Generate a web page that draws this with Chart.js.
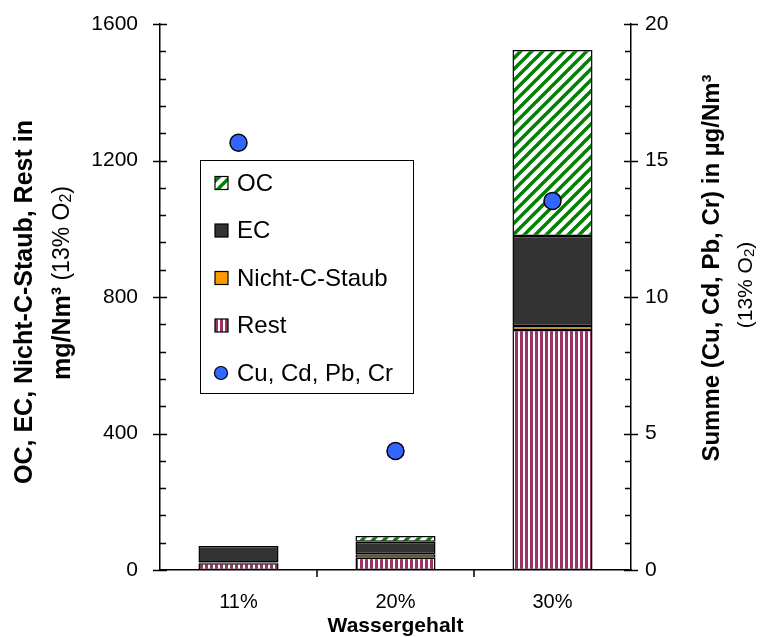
<!DOCTYPE html>
<html>
<head>
<meta charset="utf-8">
<script src="https://cdn.jsdelivr.net/npm/chart.js@4.4.0/dist/chart.umd.min.js"></script>
<style>
  html, body { margin: 0; padding: 0; background: #fff; }
</style>
</head>
<body>
<canvas id="chart" width="764" height="637"></canvas>
<script>
const categories = ["11%", "20%", "30%"];
const rest = [20, 36, 703];
const nichtC = [2, 10, 12];
const ec = [48, 37, 264];
const oc = [0, 17, 545];
const metals = [15.65, 4.36, 13.52];

const FONT = "'Liberation Sans', Arial, sans-serif";
const canvas = document.getElementById("chart");
const ctx = canvas.getContext("2d");

// fill patterns for the hatched segments
function makePattern(w, h, draw) {
  const c = document.createElement("canvas");
  c.width = w;
  c.height = h;
  const g = c.getContext("2d");
  g.fillStyle = "#fff";
  g.fillRect(0, 0, w, h);
  draw(g);
  return ctx.createPattern(c, "repeat");
}

const ocFill = makePattern(11, 11, (g) => {
  g.strokeStyle = "#008000";
  g.lineWidth = 3.4;
  [[-5.5, 5.5, 5.5, -5.5], [0, 11, 11, 0], [5.5, 16.5, 16.5, 5.5]].forEach(([a, b, c, d]) => {
    g.beginPath();
    g.moveTo(a, b);
    g.lineTo(c, d);
    g.stroke();
  });
});

const restFill = makePattern(5, 4, (g) => {
  g.fillStyle = "#993366";
  g.fillRect(0, 0, 3, 4);
});

function barSet(label, data, fill) {
  return {
    label: label,
    data: data,
    backgroundColor: fill,
    borderColor: "#000",
    borderWidth: 1.5,
    borderSkipped: false,
    barPercentage: 0.51,
    categoryPercentage: 1.0,
    yAxisID: "y",
    order: 1,
  };
}

const datasets = [
  barSet("Rest", rest, restFill),
  barSet("Nicht-C-Staub", nichtC, "#ff9900"),
  barSet("EC", ec, "#333333"),
  barSet("OC", oc, ocFill),
  {
    type: "line",
    label: "Cu, Cd, Pb, Cr",
    data: metals,
    showLine: false,
    yAxisID: "y2",
    pointRadius: 8.5,
    pointBackgroundColor: "#3366ff",
    pointBorderColor: "#000",
    pointBorderWidth: 1.5,
    order: 0,
  },
];

function rotatedText(x, y, parts, angle) {
  ctx.save();
  ctx.translate(x, y);
  ctx.rotate(angle === undefined ? -Math.PI / 2 : angle);
  ctx.textBaseline = "middle";
  ctx.textAlign = "left";
  ctx.fillStyle = "#000";
  let total = 0;
  parts.forEach((p) => {
    ctx.font = p.font;
    total += ctx.measureText(p.text).width;
  });
  let cx = -total / 2;
  parts.forEach((p) => {
    ctx.font = p.font;
    ctx.fillText(p.text, cx, p.dy || 0);
    cx += ctx.measureText(p.text).width;
  });
  ctx.restore();
}

const decorations = {
  id: "decorations",
  afterDraw(chart) {
    const c = chart.ctx;
    const area = chart.chartArea;
    const y = chart.scales.y;
    const y2 = chart.scales.y2;
    const x = chart.scales.x;

    // tick marks
    c.save();
    c.strokeStyle = "#000";
    c.lineWidth = 1.5;
    c.beginPath();
    for (let v = 0; v <= 1600; v += 80) {
      const py = Math.round(y.getPixelForValue(v)) + 0.5;
      if (v % 400 === 0) {
        c.moveTo(area.left - 7, py);
        c.lineTo(area.left + 7, py);
      } else {
        c.moveTo(area.left, py);
        c.lineTo(area.left + 6, py);
      }
    }
    for (let v = 0; v <= 20; v += 1) {
      const py = Math.round(y2.getPixelForValue(v)) + 0.5;
      if (v % 5 === 0) {
        c.moveTo(area.right - 7, py);
        c.lineTo(area.right + 7, py);
      } else {
        c.moveTo(area.right - 6, py);
        c.lineTo(area.right, py);
      }
    }
    for (let i = 0; i < categories.length - 1; i++) {
      const px = (x.getPixelForValue(i) + x.getPixelForValue(i + 1)) / 2;
      c.moveTo(px, area.bottom);
      c.lineTo(px, area.bottom + 7);
    }
    c.stroke();
    c.restore();

    // axis titles
    rotatedText(25, 302, [
      { text: "OC, EC, Nicht-C-Staub, Rest in", font: "bold 25px " + FONT },
    ]);
    rotatedText(63, 283, [
      { text: "mg/Nm³", font: "bold 25px " + FONT },
      { text: " (13% O", font: "23px " + FONT },
      { text: "2", font: "16px " + FONT, dy: 4 },
      { text: ")", font: "23px " + FONT },
    ]);
    rotatedText(712, 268, [
      { text: "Summe (Cu, Cd, Pb, Cr) in µg/Nm³", font: "bold 24px " + FONT },
    ]);
    rotatedText(746, 285, [
      { text: "(13% O", font: "21px " + FONT },
      { text: "2", font: "15px " + FONT, dy: 4 },
      { text: ")", font: "21px " + FONT },
    ]);
    rotatedText((area.left + area.right) / 2, 626, [
      { text: "Wassergehalt", font: "bold 21px " + FONT },
    ], 0);

    // legend box
    const box = { left: 200, top: 160, right: 413, bottom: 393 };
    c.save();
    c.fillStyle = "#fff";
    c.fillRect(box.left, box.top, box.right - box.left, box.bottom - box.top);
    c.strokeStyle = "#000";
    c.lineWidth = 1;
    c.strokeRect(box.left + 0.5, box.top + 0.5, box.right - box.left, box.bottom - box.top);
    const entries = [3, 2, 1, 0, 4];
    entries.forEach((di, k) => {
      const ds = chart.data.datasets[di];
      const cy = 183 + k * 47.5;
      c.lineWidth = 1.2;
      c.strokeStyle = "#000";
      if (ds.type === "line") {
        c.beginPath();
        c.arc(221, cy, 6.5, 0, Math.PI * 2);
        c.fillStyle = ds.pointBackgroundColor;
        c.fill();
        c.stroke();
      } else {
        c.fillStyle = ds.backgroundColor;
        c.fillRect(215, cy - 6.5, 13, 13);
        c.strokeRect(215, cy - 6.5, 13, 13);
      }
      c.fillStyle = "#000";
      c.font = "24px " + FONT;
      c.textBaseline = "middle";
      c.textAlign = "left";
      c.fillText(ds.label, 237, cy + 1);
    });
    c.restore();
  },
};

const tickFont = { family: FONT, size: 21 };
const plainLabel = (v) => String(v);

function fixWidth(w) {
  return (scale) => {
    scale.width = w;
    scale.paddingTop = 0;
    scale.paddingBottom = 0;
  };
}

new Chart(canvas, {
  type: "bar",
  data: { labels: categories, datasets: datasets },
  plugins: [decorations],
  options: {
    responsive: false,
    animation: false,
    layout: { padding: { top: 24, left: 0, right: 0, bottom: 0 } },
    plugins: {
      legend: { display: false },
      tooltip: { enabled: false },
    },
    scales: {
      x: {
        stacked: true,
        offset: true,
        grid: { display: false, drawTicks: false },
        border: { display: true, color: "#000", width: 1.5 },
        ticks: { color: "#000", font: { family: FONT, size: 20 }, padding: 20 },
        afterFit(scale) {
          scale.height = 67;
          scale.paddingLeft = 0;
          scale.paddingRight = 0;
        },
      },
      y: {
        position: "left",
        stacked: true,
        min: 0,
        max: 1600,
        grid: { display: false, drawTicks: false },
        border: { display: true, color: "#000", width: 1.5 },
        ticks: { stepSize: 400, color: "#000", font: tickFont, padding: 22, callback: plainLabel },
        afterFit: fixWidth(160),
      },
      y2: {
        position: "right",
        min: 0,
        max: 20,
        grid: { display: false, drawTicks: false },
        border: { display: true, color: "#000", width: 1.5 },
        ticks: { stepSize: 5, color: "#000", font: tickFont, padding: 14, callback: plainLabel },
        afterFit: fixWidth(133),
      },
    },
  },
});
</script>
</body>
</html>
